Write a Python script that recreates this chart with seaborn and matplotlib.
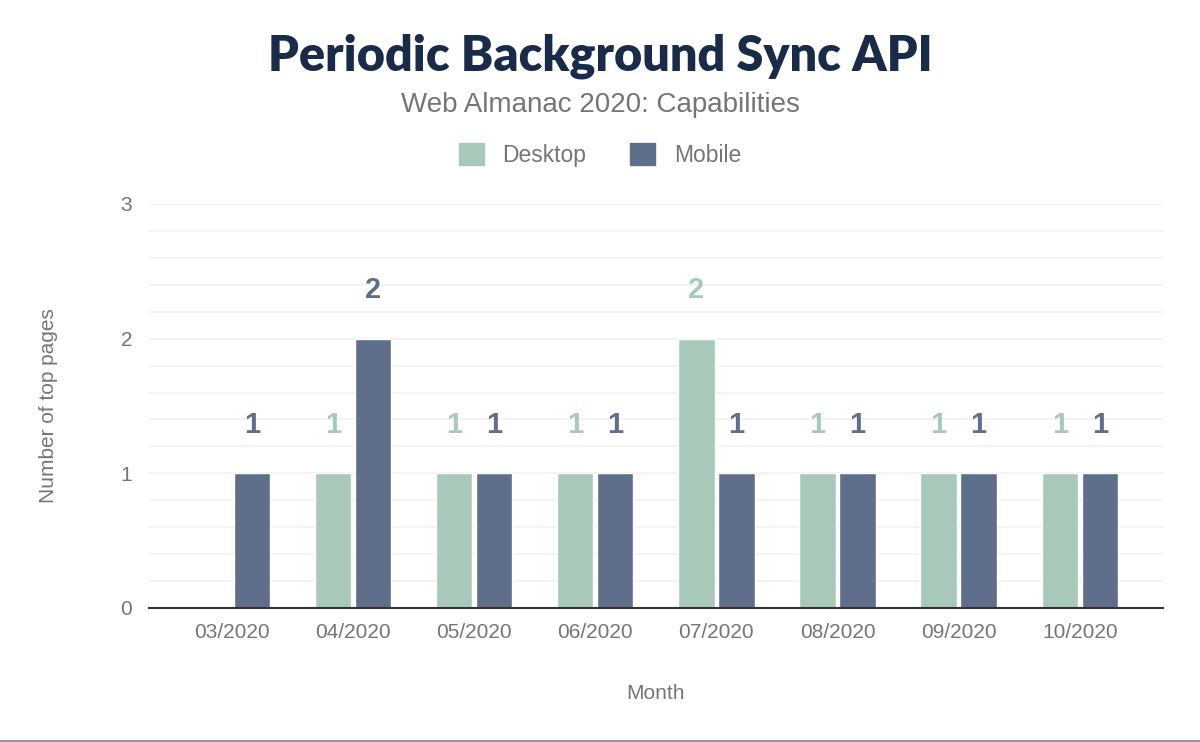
import matplotlib.pyplot as plt
import matplotlib.lines as mlines
import matplotlib.patches as mpatches
import numpy as np
import pandas as pd
import seaborn as sns

months = ["03/2020", "04/2020", "05/2020", "06/2020", "07/2020", "08/2020", "09/2020", "10/2020"]
desktop = [np.nan, 1, 1, 1, 2, 1, 1, 1]
mobile = [1, 2, 1, 1, 1, 1, 1, 1]

desktop_color = "#a8c9b9"
mobile_color = "#5f6e8a"
gray = "#757575"

df = pd.DataFrame({
    "Month": months * 2,
    "Client": ["Desktop"] * len(months) + ["Mobile"] * len(months),
    "Pages": desktop + mobile,
})

sns.set_theme(style="white")
plt.rcParams["font.family"] = ["Liberation Sans", "DejaVu Sans"]

fig = plt.figure(figsize=(12, 7.42), dpi=100)
ax = fig.add_axes([0.124, 0.1806, 0.845, 0.5445])

sns.barplot(data=df, x="Month", y="Pages", hue="Client",
            palette=[desktop_color, mobile_color], width=0.66, gap=0.09,
            saturation=1, ax=ax, legend=False)

# value labels above each bar
for container, color in zip(ax.containers, [desktop_color, mobile_color]):
    for bar in container:
        h = bar.get_height()
        if np.isnan(h) or h == 0:
            continue
        ax.annotate(f"{int(h)}", (bar.get_x() + bar.get_width() / 2, h),
                    xytext=(0, 35), textcoords="offset points",
                    ha="center", va="center", fontsize=21, fontweight="bold",
                    color=color)

ax.set_xlim(-0.686, 7.686)
ax.set_ylim(0, 3)
ax.set_yticks([0, 1, 2, 3])
ax.set_yticks(np.arange(0, 3.01, 0.2), minor=True)
ax.grid(axis="y", which="both", color="#f2f2f2", linewidth=1.3)
ax.set_axisbelow(True)

for s in ["top", "right", "left"]:
    ax.spines[s].set_visible(False)
ax.spines["bottom"].set_color("#333333")
ax.spines["bottom"].set_linewidth(1.5)

ax.tick_params(axis="both", which="both", length=0, labelsize=15, labelcolor=gray)
ax.tick_params(axis="x", pad=11)
ax.tick_params(axis="y", pad=12)

ax.set_xlabel("Month", fontsize=15, color=gray, labelpad=30)
ax.set_ylabel("Number of top pages", fontsize=15, color=gray, labelpad=45)

fig.text(0.5, 0.924, "Periodic Background Sync API", ha="center", va="center",
         fontsize=35, fontweight="heavy", color="#1a2b49", family=["Lato", "DejaVu Sans"])
fig.text(0.5, 0.859, "Web Almanac 2020: Capabilities", ha="center", va="center",
         fontsize=20, color=gray)

handles = [mpatches.Patch(color=desktop_color, label="Desktop"),
           mpatches.Patch(color=mobile_color, label="Mobile")]
fig.legend(handles=handles, loc="center", bbox_to_anchor=(0.5, 0.791), ncol=2,
           frameon=False, fontsize=16.5, labelcolor=gray, handlelength=1.1,
           handleheight=1.1, handletextpad=0.8, columnspacing=1.9)

fig.add_artist(mlines.Line2D([0, 1], [0.0015, 0.0015], color="#999999", linewidth=1.5,
                             transform=fig.transFigure))

fig.savefig("out.png", dpi=100, facecolor="white")
